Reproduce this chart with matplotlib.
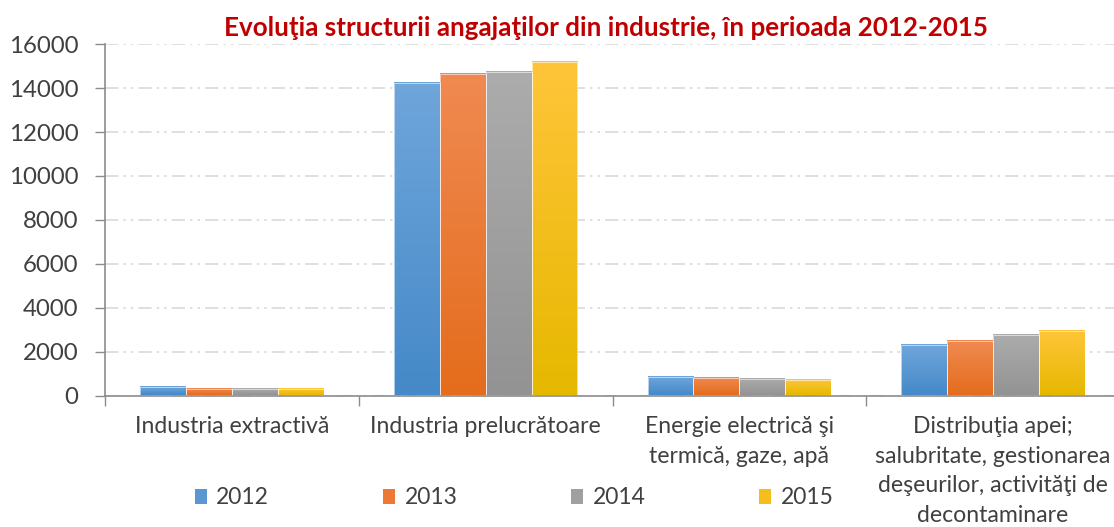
import numpy as np
import matplotlib
matplotlib.use("Agg")
import matplotlib.pyplot as plt
from matplotlib.colors import to_rgb
from matplotlib.patches import Patch

plt.rcParams['font.family'] = ['Lato', 'DejaVu Sans']

# --- data ---
categories = [
    "Industria extractivă",
    "Industria prelucrătoare",
    "Energie electrică şi\ntermică, gaze, apă",
    "Distribuţia apei;\nsalubritate, gestionarea\ndeşeurilor, activităţi de\ndecontaminare",
]
years = ["2012", "2013", "2014", "2015"]
v2012 = [370, 14250, 830, 2300]
v2013 = [300, 14650, 780, 2480]
v2014 = [290, 14750, 770, 2770]
v2015 = [290, 15200, 720, 2930]
series = [v2012, v2013, v2014, v2015]

title = "Evoluţia structurii angajaţilor din industrie, în perioada 2012-2015"

# top / bottom colours of the bar gradients
top_colors = ["#6FA6DB", "#F08A52", "#ACACAC", "#FFC53A"]
bottom_colors = ["#4589C8", "#E46C1C", "#939393", "#E6B800"]
legend_colors = ["#5A97D2", "#EC7A36", "#A0A0A0", "#F5BE1C"]

text_color = "#404040"
axis_color = "#8C8C8C"

fig = plt.figure(figsize=(11.14, 5.27), dpi=100)
ax = fig.add_axes([105 / 1114, 131.5 / 527, 1015 / 1114, 351.2 / 527])

n = len(series)
bar_w = 0.181
x = np.arange(len(categories))

for i, vals in enumerate(series):
    offs = (i - (n - 1) / 2) * bar_w
    c_top = np.array(to_rgb(top_colors[i]))
    c_bot = np.array(to_rgb(bottom_colors[i]))
    t = np.linspace(0, 1, 128)[:, None, None]
    grad = c_bot[None, None, :] * (1 - t) + c_top[None, None, :] * t
    for xi, v in zip(x, vals):
        x0 = xi + offs - bar_w / 2
        ax.imshow(grad, extent=(x0, x0 + bar_w, 0, v), origin="lower",
                  aspect="auto", zorder=3, interpolation="bilinear")
        ax.bar(xi + offs, v, width=bar_w, color="none", edgecolor="white",
               linewidth=0.4, zorder=4)

ax.set_xlim(-0.5, len(categories) - 0.5)
ax.set_ylim(0, 16000)
ax.set_yticks(np.arange(0, 16001, 2000))
ax.tick_params(axis="y", labelsize=17.3, labelcolor=text_color, color=axis_color,
               length=7, width=1, pad=12)

# category labels between separator ticks
ax.set_xticks(x)
ax.set_xticklabels(categories, fontsize=16.6, color=text_color, linespacing=1.5)
ax.tick_params(axis="x", which="major", length=0, pad=15)
ax.set_xticks(np.arange(-0.5, len(categories), 1), minor=True)
ax.tick_params(axis="x", which="minor", length=7, width=1, color=axis_color)

ax.grid(axis="y", color="#D9D9D9", linewidth=1.2,
        linestyle=(0, (8, 3, 1.5, 3, 1.5, 3)), zorder=0)
for side in ("top", "right"):
    ax.spines[side].set_visible(False)
for side in ("left", "bottom"):
    ax.spines[side].set_color(axis_color)
    ax.spines[side].set_linewidth(1.2)
ax.spines["bottom"].set_zorder(5)

fig.text(606 / 1114, 1 - 28 / 527, title, ha="center", va="center",
         fontsize=18.7, fontweight="bold", color="#C00000")

handles = [Patch(facecolor=c, edgecolor="none") for c in legend_colors]
fig.legend(handles, years, loc="center", bbox_to_anchor=(514 / 1114, 1 - 498 / 527),
           ncol=4, frameon=False, fontsize=16.5, labelcolor=text_color,
           handlelength=0.55, handleheight=0.6, handletextpad=0.4,
           columnspacing=4.95)

fig.savefig("out.png", dpi=100)
